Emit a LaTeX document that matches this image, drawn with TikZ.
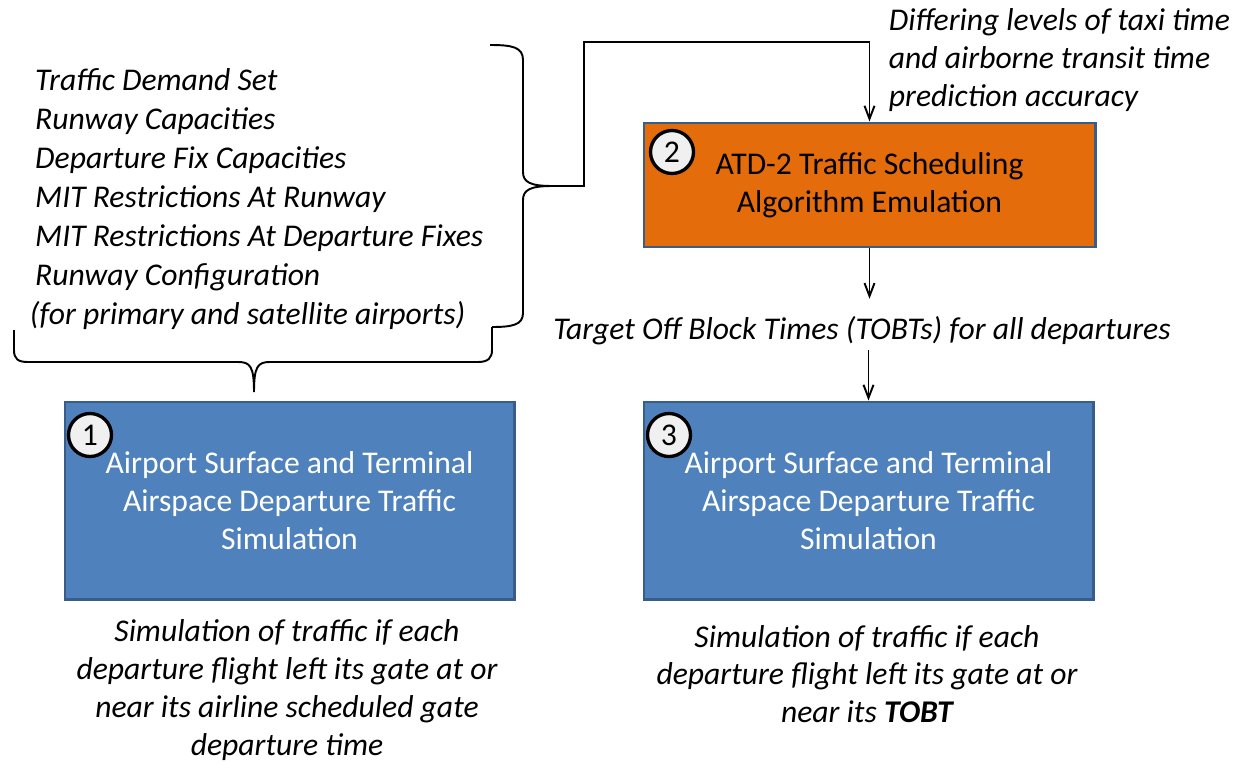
\documentclass[tikz,border=0pt]{standalone}
\usepackage{fontspec}
\setmainfont{Carlito}
\usetikzlibrary{arrows.meta}

\definecolor{boxblue}{HTML}{4F81BD}
\definecolor{boxedge}{HTML}{385D8A}
\definecolor{boxorange}{HTML}{E46C0A}
\definecolor{numfill}{HTML}{F0F0F0}

\begin{document}
\begin{tikzpicture}[x=0.2mm, y=-0.2mm, line width=1.1pt]
    \tikzstyle{box_style} = [rectangle, draw=boxedge, line width=1.7pt, fill=boxblue, text=white, align=center, minimum width=8.98cm, minimum height=3.94cm, font=\fontsize{18}{21.5}\selectfont]
    \tikzstyle{sched_style} = [box_style, fill=boxorange, text=black, minimum width=9.02cm, minimum height=2.48cm]
    \tikzstyle{num_style} = [circle, draw=black, line width=1.9pt, fill=numfill, minimum size=8.6mm, inner sep=0pt, font=\fontsize{18}{21.5}\selectfont]
    \tikzstyle{note_style} = [inner sep=0pt, font=\fontsize{18}{21.5}\selectfont\itshape]
    \tikzstyle{arrow_style} = [-{Straight Barb[length=2.6mm, width=2mm]}]

    \useasboundingbox (0,0) rectangle (1234,763);

    % the three process boxes
    \node[box_style] (b1) at (289.5,500.5) {Airport Surface and Terminal\\Airspace Departure Traffic\\Simulation};
    \node[sched_style] (b2) at (869.5,185) {ATD-2 Traffic Scheduling\\Algorithm Emulation};
    \node[box_style] (b3) at (868.5,500.5) {Airport Surface and Terminal\\Airspace Departure Traffic\\Simulation};

    \node[num_style] (n1) at (90,435) {1};
    \node[num_style] (n2) at (672,152) {2};
    \node[num_style] (n3) at (669,435) {3};

    % inputs and notes
    \node[note_style, align=left, anchor=west, font=\fontsize{18}{22.2}\selectfont\itshape] (inputs) at (29,199)
        {\,Traffic Demand Set\\\,Runway Capacities\\\,Departure Fix Capacities\\\,MIT Restrictions At Runway\\\,MIT Restrictions At Departure Fixes\\\,Runway Configuration\\(for primary and satellite airports)};
    \node[note_style, align=left, anchor=west] (accuracy) at (888,60)
        {Differing levels of taxi time\\and airborne transit time\\prediction accuracy};
    \node[note_style] (tobt) at (862,331) {Target Off Block Times (TOBTs) for all departures};
    \node[note_style, align=center] (out1) at (287,690)
        {Simulation of traffic if each\\departure flight left its gate at or\\near its airline scheduled gate\\departure time};
    \node[note_style, align=center] (out3) at (867,674)
        {Simulation of traffic if each\\departure flight left its gate at or\\near its \textbf{TOBT}};

    % braces round the inputs
    \draw (490,45) .. controls (512,45) and (523,47) .. (523,60) -- (523,172)
        .. controls (523,182) and (530,186) .. (552,186)
        .. controls (530,186) and (523,190) .. (523,200) -- (523,313)
        .. controls (523,325) and (512,327) .. (492,327);
    \draw (14,330) -- (14,350) .. controls (14,359) and (18,362) .. (28,362) -- (238,362)
        .. controls (250,362) and (254,366) .. (254,392)
        .. controls (254,366) and (258,362) .. (270,362) -- (478,362)
        .. controls (488,362) and (492,358) .. (492,350) -- (492,327);
    \coordinate (tip) at (552,186);
    \coordinate (corner) at (584,42);

    % connectors
    \draw[arrow_style] (tip) -| (corner) -| (b2.north);
    \draw[arrow_style, shorten >=3.4mm] (b2.south) -- (b2.south |- tobt.north);
    \draw[arrow_style, shorten <=0.8mm] (b3.north |- tobt.south) -- (b3.north);
\end{tikzpicture}
\end{document}
